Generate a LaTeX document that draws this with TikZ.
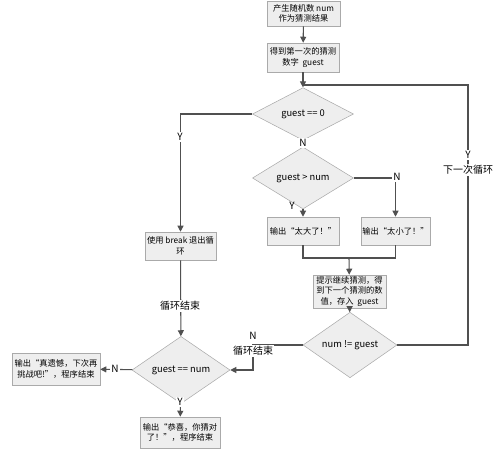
\documentclass[tikz,border=0pt]{standalone}
\usepackage{fontspec}
\setmainfont{Noto Sans CJK SC}
\usetikzlibrary{shapes.geometric,arrows.meta}

\begin{document}
\begin{tikzpicture}[x=0.75pt,y=0.75pt,yscale=-1,xscale=1,
  line/.style={draw={rgb,255:red,80;green,80;blue,80}, line width=0.8pt},
  arr/.style={line, -{Triangle[width=4.5pt,length=4.5pt]}},
  box/.style={draw={rgb,255:red,170;green,170;blue,170}, fill={rgb,255:red,238;green,238;blue,238},
    inner sep=1pt, align=center, font=\fontsize{6.2}{8}\selectfont},
  cond/.style={diamond, draw={rgb,255:red,170;green,170;blue,170}, fill={rgb,255:red,238;green,238;blue,238},
    inner sep=0pt, font=\fontsize{7}{8}\selectfont},
  lbl/.style={fill=white, inner sep=1pt, font=\fontsize{7.5}{9}\selectfont}]
\useasboundingbox (0,0) rectangle (500,456);

%Boxes
\node [box, minimum width=54.75pt, minimum height=19pt] (start) at (303.5,13.5) {产生随机数 num\\作为猜测结果};
\node [box, minimum width=54pt, minimum height=21.75pt] (first) at (303,57.5) {得到第一次的猜测\\数字\ \ guest};
\node [box, minimum width=54pt, minimum height=21pt] (big) at (303,231) {输出“太大了！”};
\node [box, minimum width=51.75pt, minimum height=21pt] (small) at (395.5,231) {输出“太小了！”};
\node [box, minimum width=53.25pt, minimum height=21pt] (brk) at (180.5,246) {使用 break 退出循\\环};
\node [box, minimum width=54.75pt, minimum height=24.75pt] (hint) at (349.5,291.5) {提示继续猜测，得\\到下一个猜测的数\\值，存入\ \ guest};
\node [box, minimum width=66pt, minimum height=24pt] (fail) at (56,369) {输出“真遗憾，下次再\\挑战吧!”，程序结束};
\node [box, minimum width=60pt, minimum height=23.25pt] (win) at (180,432.5) {输出“恭喜，你猜对\\了！”，程序结束};

%Decisions
\node [cond, minimum width=75.75pt, minimum height=26.25pt] (d0) at (303,114) {guest == 0};
\node [cond, minimum width=75.75pt, minimum height=28.5pt] (dgt) at (303,178) {guest > num};
\node [cond, minimum width=70.5pt, minimum height=27pt] (dne) at (350,345) {num != guest};
\node [cond, minimum width=73.5pt, minimum height=27pt] (deq) at (181,370) {guest == num};

%Points
\coordinate (jn) at (303,85);
\coordinate (loop) at (468,85);
\coordinate (merge) at (349,258);
\coordinate (bend) at (253,345);

%Connectors
\draw [arr] (start) -- (first);
\draw [arr] (first) -- (d0);
\draw [line] (dne.east) -| (loop) -- (jn);
\draw [arr] (d0.west) -| (brk.north);
\draw [arr] (d0) -- (dgt);
\draw [arr] (dgt) -- (big);
\draw [arr] (dgt.east) -| (small.north);
\draw [line] (big.south) |- (merge);
\draw [line] (small.south) |- (merge);
\draw [arr] (merge) -- (hint);
\draw [arr] (hint) -- (dne);
\draw [arr] (dne.west) -- (bend) |- (deq.east);
\draw [arr] (brk) -- (deq);
\draw [arr] (deq) -- (fail);
\draw [arr] (deq) -- (win);

%Labels
\node [lbl] (ly1) at (468,155) {Y};
\node [lbl] (lnext) at (468,170) {下一次循环};
\node [lbl] (ly2) at (180,137) {Y};
\node [lbl] (ln1) at (303,143) {N};
\node [lbl, fill=none] (ly3) at (292,206) {Y};
\node [lbl] (ln2) at (397,177) {N};
\node [lbl, fill=none] (ln3) at (253,336) {N};
\node [lbl] (lend1) at (253,351) {循环结束};
\node [lbl] (lend2) at (180,306) {循环结束};
\node [lbl] (ln4) at (115,369) {N};
\node [lbl] (ly4) at (180,402) {Y};

\end{tikzpicture}
\end{document}
